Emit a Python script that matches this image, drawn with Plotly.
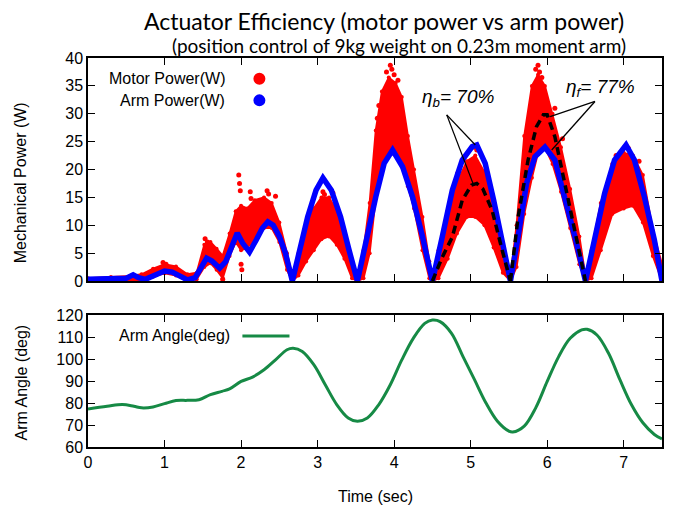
import plotly.graph_objects as go

# ---------------- data ----------------
arm_t = [0, 0.2, 0.4, 0.5, 0.59, 0.66, 0.75, 0.85, 1.0, 1.1, 1.2, 1.3, 1.4, 1.5, 1.55, 1.62,
         1.72, 1.8, 1.88, 1.95, 2.02, 2.11, 2.2, 2.28, 2.35, 2.42, 2.5, 2.58, 2.67,
         2.74, 2.87, 2.98, 3.07, 3.18, 3.3, 3.41, 3.52,
         3.6, 3.67, 3.76, 3.87, 3.98, 4.11, 4.24, 4.37, 4.5,
         4.63, 4.76, 4.89, 5.02, 5.08, 5.19, 5.3, 5.41, 5.52,
         5.62, 5.73, 5.84, 5.97, 6.1, 6.23, 6.36, 6.5,
         6.62, 6.75, 6.88, 7.03, 7.14, 7.27, 7.4, 7.5]
arm_p = [0.3, 0.3, 0.3, 0.5, 1.1, 0.6, 0.3, 0.9, 1.8, 1.6, 0.9, 0.2, 0.6, 3.0, 4.1, 3.6,
         2.3, 3.5, 6.0, 8.6, 6.8, 5.2, 7.4, 9.5, 10.6, 10.0, 8.0, 5.0, 0.0,
         4.4, 11.5, 16.3, 18.5, 16.3, 11.5, 5.6, 0.0,
         5.0, 9.5, 15.1, 21.1, 23.5, 20.5, 15.1, 8.0, 0.0,
         8.0, 16.3, 21.7, 24.1, 24.4, 21.1, 14.5, 7.4, 0.0,
         8.0, 17.5, 22.3, 24.0, 21.7, 15.1, 8.0, 0.0,
         8.0, 15.7, 21.7, 24.4, 21.7, 15.1, 7.4, 0.0]

motor_t = [0.0, 0.3, 0.55, 0.7, 0.85, 1.0, 1.15, 1.3, 1.42, 1.52, 1.6, 1.68, 1.76, 1.85,
           1.93, 2.0, 2.08, 2.18, 2.3, 2.4, 2.5, 2.6, 2.67, 2.75, 2.85, 2.95, 3.05, 3.15,
           3.25, 3.35, 3.45, 3.52, 3.6, 3.68, 3.76, 3.84, 3.93, 4.02, 4.1, 4.18, 4.26,
           4.37, 4.46, 4.5, 4.58, 4.7, 4.82, 4.95, 5.06, 5.18, 5.3, 5.42, 5.52, 5.6, 5.7,
           5.8, 5.88, 5.97, 6.07, 6.18, 6.3, 6.42, 6.5, 6.58, 6.7, 6.85, 7.0, 7.12, 7.25,
           7.38, 7.5]
motor_hi = [0.5, 0.7, 0.9, 1.2, 2.2, 3.0, 2.6, 1.2, 1.5, 6.5, 7.0, 5.8, 4.5, 8.5,
            12.5, 13.5, 13.0, 14.5, 15.0, 14.0, 10.5, 5.0, 0.8, 5.0, 9.5, 13.0, 15.0, 15.0,
            12.5, 9.0, 3.5, 0.8, 5.5, 14.0, 27.0, 34.0, 36.5, 35.5, 33.0, 26.0, 20.0,
            11.5, 3.5, 0.8, 5.5, 11.5, 17.5, 21.5, 22.5, 19.5, 13.5, 6.0, 0.8, 10.0, 26.0,
            35.0, 37.0, 35.0, 30.0, 24.0, 16.5, 8.0, 0.8, 5.5, 14.0, 21.0, 23.0, 22.5, 19.0,
            9.0, 3.0]
motor_lo = [0.0, 0.0, 0.2, 0.2, 0.8, 1.4, 1.0, 0.0, 0.3, 2.5, 3.2, 2.0, 0.5, 4.5,
            7.0, 5.5, 6.0, 7.5, 9.5, 9.5, 7.0, 2.0, 0.0, 1.0, 3.5, 5.5, 7.5, 8.0,
            6.5, 4.0, 0.5, 0.0, 0.5, 5.0, 15.0, 20.0, 23.0, 22.5, 20.5, 17.0, 13.0,
            5.5, 0.5, 0.0, 0.5, 4.0, 8.5, 11.5, 11.5, 10.0, 6.0, 1.5, 0.0, 2.5, 12.0,
            18.5, 23.0, 24.0, 21.0, 16.0, 9.5, 3.0, 0.0, 0.5, 5.5, 12.0, 13.0, 13.5, 10.5,
            4.5, 0.0]
motor_spike_t = [1.53, 1.56, 1.97, 1.98, 1.99, 2.0, 2.01, 2.12, 2.13, 2.34, 2.36, 1.76, 3.07,
                 3.09, 3.78, 3.8, 3.9, 3.95, 3.97, 4.0, 4.05, 5.05, 5.08, 5.85, 5.88, 5.9,
                 5.93, 7.04, 7.06, 7.2, 4.83, 0.98, 1.02, 6.1, 6.2, 2.45, 3.2, 6.9]
motor_spike_p = [7.6, 7.0, 19.0, 17.5, 16.2, 3.0, 2.0, 16.0, 14.8, 16.2, 15.6, 0.3, 16.0,
                 15.5, 29.2, 31.5, 37.5, 38.7, 38.0, 37.0, 36.0, 24.0, 23.5, 38.0, 38.7, 37.5,
                 36.5, 24.1, 23.8, 21.5, 19.3, 3.3, 3.0, 31.0, 25.5, 15.2, 15.8, 22.5]

eta_b_t = [4.5, 4.62, 4.76, 4.89, 5.01, 5.08, 5.16, 5.28, 5.41, 5.52]
eta_b_p = [0.0, 4.0, 7.9, 14.5, 17.2, 17.5, 16.5, 12.7, 5.6, 0.0]
eta_f_t = [5.52, 5.62, 5.75, 5.86, 5.95, 6.0, 6.1, 6.23, 6.36, 6.48, 6.5]
eta_f_p = [0.0, 11.5, 21.7, 27.7, 29.8, 29.8, 25.9, 17.5, 8.6, 1.4, 0.0]

angle_t = [0, 0.25, 0.45, 0.6, 0.7, 0.85, 1.0, 1.15, 1.3, 1.45, 1.6, 1.75, 1.85, 2.0, 2.15,
           2.3, 2.45, 2.6, 2.68, 2.8, 2.95, 3.1, 3.25, 3.4, 3.52, 3.65, 3.8, 3.95, 4.1,
           4.25, 4.4, 4.5, 4.6, 4.75, 4.9, 5.05, 5.2, 5.35, 5.5, 5.55, 5.7, 5.85, 6.0,
           6.15, 6.3, 6.45, 6.52, 6.65, 6.8, 6.95, 7.1, 7.25, 7.4, 7.5]
angle_deg = [77.3, 78.5, 79.3, 78.5, 77.8, 78.2, 79.7, 81.1, 81.2, 81.5, 83.8, 85.3, 86.4,
             89.8, 91.8, 95.1, 99.6, 104.2, 104.9, 103.4, 97.4, 88.3, 79.3, 73.2, 71.7,
             73.2, 79.3, 88.3, 99.6, 109.4, 116.2, 117.7, 117.0, 111.7, 101.1, 90.6, 80.0,
             71.7, 67.2, 66.8, 69.5, 77.8, 89.8, 101.1, 109.4, 113.2, 113.5, 110.9, 102.7,
             90.6, 79.3, 71.0, 65.7, 63.7]

x_ticks = [0, 1, 2, 3, 4, 5, 6, 7]

# pointer lines: (label anchor t, P) -> targets
eta_b_from = (4.6875, 29.8)
eta_b_to = [(5.061, 24.4), (5.039, 17.2)]
eta_f_from = (6.624, 32.2)
eta_f_to = [(6.038, 29.5), (6.059, 23.5)]

RED = "#ff0000"
BLUE = "#0000ff"
GREEN = "#168a45"
TICKFONT = dict(family="Liberation Sans, Arial, sans-serif", size=16, color="black")

fig = go.Figure()

# motor power band
fig.add_trace(go.Scatter(x=motor_t, y=motor_lo, mode="lines+markers",
                         line=dict(color=RED, width=2), marker=dict(color=RED, size=4),
                         showlegend=False, xaxis="x", yaxis="y"))
fig.add_trace(go.Scatter(x=motor_t, y=motor_hi, mode="lines+markers", fill="tonexty",
                         fillcolor=RED, line=dict(color=RED, width=2),
                         marker=dict(color=RED, size=4),
                         showlegend=False, xaxis="x", yaxis="y"))
fig.add_trace(go.Scatter(x=motor_spike_t, y=motor_spike_p, mode="markers",
                         marker=dict(color=RED, size=5), showlegend=False,
                         xaxis="x", yaxis="y"))
# arm power
fig.add_trace(go.Scatter(x=arm_t, y=arm_p, mode="lines",
                         line=dict(color=BLUE, width=5.5), showlegend=False,
                         xaxis="x", yaxis="y"))
# efficiency dashed curves
for tt, pp in ((eta_b_t, eta_b_p), (eta_f_t, eta_f_p)):
    fig.add_trace(go.Scatter(x=tt, y=pp, mode="lines",
                             line=dict(color="black", width=3.5, dash="8px,5px"),
                             showlegend=False, xaxis="x", yaxis="y"))
# arm angle
fig.add_trace(go.Scatter(x=angle_t, y=angle_deg, mode="lines", line_shape="spline",
                         line=dict(color=GREEN, width=3), showlegend=False,
                         xaxis="x2", yaxis="y2"))

axis_common = dict(showline=True, linecolor="black", linewidth=1.5, mirror="ticks",
                   ticks="inside", ticklen=7, tickcolor="black", tickwidth=1.2,
                   showgrid=False, zeroline=False, tickfont=TICKFONT)

fig.update_layout(
    width=673, height=508,
    margin=dict(l=88, r=9, t=58, b=61),
    paper_bgcolor="white", plot_bgcolor="white",
    xaxis=dict(domain=[0, 1], anchor="y", range=[0, 7.5], tickvals=x_ticks,
               showticklabels=False, **axis_common),
    yaxis=dict(domain=[0.4267, 1], anchor="x", range=[0, 40], dtick=5, **axis_common),
    xaxis2=dict(domain=[0, 1], anchor="y2", range=[0, 7.5], tickvals=x_ticks,
                **axis_common),
    yaxis2=dict(domain=[0, 0.3393], anchor="x2", range=[60, 120], dtick=10, **axis_common),
)

ann = []
# titles
ann.append(dict(text="Actuator Efficiency (motor power vs arm power)", xref="paper", yref="paper",
                x=(385 - 88) / 576, y=1 + (58 - 21) / 389, showarrow=False, xanchor="center",
                yanchor="middle", font=dict(family="Lato, sans-serif", size=23, color="black")))
ann.append(dict(text="(position control of 9kg weight on 0.23m moment arm)", xref="paper",
                yref="paper", x=(400 - 88) / 576, y=1 + (58 - 45) / 389, showarrow=False,
                xanchor="center", yanchor="middle",
                font=dict(family="Lato, sans-serif", size=19, color="black")))
# axis titles
ann.append(dict(text="Mechanical Power (W)", xref="paper", yref="paper", x=-0.118,
                y=1 - (183 - 58) / 389, textangle=-90, showarrow=False,
                xanchor="center", yanchor="middle", font=TICKFONT))
ann.append(dict(text="Arm Angle (deg)", xref="paper", yref="paper", x=-0.116,
                y=1 - (382 - 58) / 389, textangle=-90, showarrow=False,
                xanchor="center", yanchor="middle", font=TICKFONT))
ann.append(dict(text="Time (sec)", xref="paper", yref="paper", x=(377 - 88) / 576,
                y=1 - (496 - 58) / 389, showarrow=False, xanchor="center",
                yanchor="middle", font=TICKFONT))
# legends
ann.append(dict(text="Motor Power(W)", xref="x domain", yref="y domain", x=0.2413, y=0.907,
                showarrow=False, xanchor="right", yanchor="middle", font=TICKFONT))
ann.append(dict(text="Arm Power(W)", xref="x domain", yref="y domain", x=0.2413, y=0.81,
                showarrow=False, xanchor="right", yanchor="middle", font=TICKFONT))
ann.append(dict(text="Arm Angle(deg)", xref="x2 domain", yref="y2 domain", x=0.2517, y=0.841,
                showarrow=False, xanchor="right", yanchor="middle", font=TICKFONT))
# efficiency labels
ETAFONT = dict(family="Liberation Sans, Arial, sans-serif", size=19, color="black")
ann.append(dict(text="<i>η<sub>b</sub>= 70%</i>", x=4.84, y=32.8, xref="x", yref="y",
                showarrow=False, font=ETAFONT))
ann.append(dict(text="<i>η<sub>f</sub>= 77%</i>", x=6.69, y=34.6, xref="x", yref="y",
                showarrow=False, font=ETAFONT))
fig.update_layout(annotations=ann)

shapes = [
    dict(type="circle", xref="x domain", yref="y domain", xsizemode="pixel", ysizemode="pixel",
         xanchor=0.2986, yanchor=0.907, x0=-6, x1=6, y0=-6, y1=6,
         fillcolor=RED, line=dict(color=RED, width=0)),
    dict(type="circle", xref="x domain", yref="y domain", xsizemode="pixel", ysizemode="pixel",
         xanchor=0.2986, yanchor=0.81, x0=-6, x1=6, y0=-6, y1=6,
         fillcolor=BLUE, line=dict(color=BLUE, width=0)),
    dict(type="line", xref="x2 domain", yref="y2 domain", x0=0.269, x1=0.351, y0=0.841,
         y1=0.841, line=dict(color=GREEN, width=3)),
]
for frm, tos in ((eta_b_from, eta_b_to), (eta_f_from, eta_f_to)):
    for (tx, ty) in tos:
        shapes.append(dict(type="line", xref="x", yref="y", x0=frm[0], y0=frm[1],
                           x1=tx, y1=ty, line=dict(color="black", width=1.3)))
fig.update_layout(shapes=shapes)

fig.write_html("out.html", config={"displayModeBar": False},
               post_script="document.body.style.margin='0px';document.body.style.overflow='hidden';")
